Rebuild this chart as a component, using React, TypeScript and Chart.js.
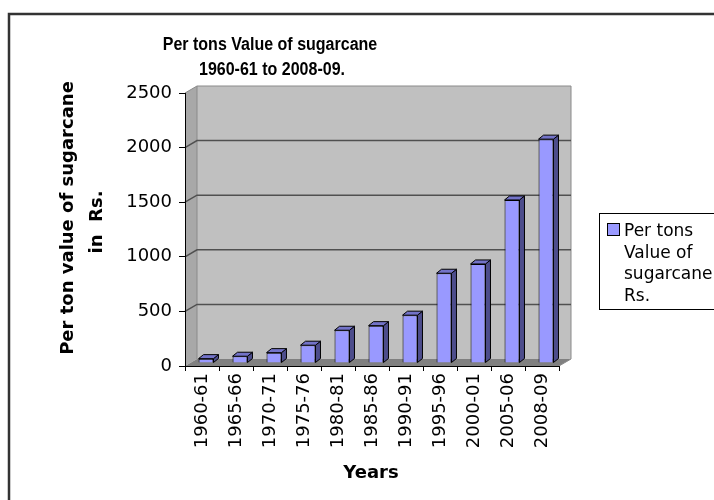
import React, { useEffect, useRef } from "react";
import { Chart, registerables } from "chart.js";

Chart.register(...registerables);

const categories = [
  "1960-61", "1965-66", "1970-71", "1975-76", "1980-81", "1985-86",
  "1990-91", "1995-96", "2000-01", "2005-06", "2008-09",
];
const values = [40, 62, 95, 163, 300, 342, 438, 822, 907, 1493, 2050];
const yMin = 0;
const yMax = 2500;
const yStep = 500;
const titleLines = ["Per tons Value of sugarcane", "1960-61 to 2008-09."];
const yTitleLines = ["Per ton value of sugarcane", "in  Rs."];
const xTitle = "Years";
const legendLines = ["Per tons", "Value of", "sugarcane", "Rs."];

// 3D geometry (pixels)
const DX = 12, DY = -7; // wall depth
const BDX = 4, BDY = -3; // bar plane shift
const SDX = 5, SDY = -4; // bar depth

const BAR_FRONT = "#9999FF";
const BAR_SIDE = "#4D4D8C";
const BAR_TOP = "#7373C8";

const threeD = {
  id: "threeD",
  beforeDraw(chart: any) {
    const { ctx, chartArea } = chart;
    const { left: L, right: R, top: T, bottom: B } = chartArea;
    const ys = chart.scales.y;
    ctx.save();
    // outer border
    ctx.strokeStyle = "#333";
    ctx.lineWidth = 2.5;
    ctx.beginPath();
    ctx.moveTo(9, 520);
    ctx.lineTo(9, 14);
    ctx.lineTo(740, 14);
    ctx.stroke();

    // back wall
    ctx.fillStyle = "#C0C0C0";
    ctx.fillRect(L + DX, T + DY, R - L, B - T);
    // side wall
    ctx.fillStyle = "#A8A8A8";
    ctx.beginPath();
    ctx.moveTo(L, T);
    ctx.lineTo(L + DX, T + DY);
    ctx.lineTo(L + DX, B + DY);
    ctx.lineTo(L, B);
    ctx.closePath();
    ctx.fill();
    // floor
    ctx.fillStyle = "#808080";
    ctx.beginPath();
    ctx.moveTo(L, B);
    ctx.lineTo(L + DX, B + DY);
    ctx.lineTo(R + DX, B + DY);
    ctx.lineTo(R, B);
    ctx.closePath();
    ctx.fill();

    // outlines of walls
    ctx.strokeStyle = "#8a8a8a";
    ctx.lineWidth = 1;
    ctx.beginPath();
    ctx.moveTo(L, T);
    ctx.lineTo(L + DX, T + DY);
    ctx.lineTo(R + DX, T + DY);
    ctx.lineTo(R + DX, B + DY);
    ctx.lineTo(R, B);
    ctx.moveTo(L + DX, T + DY);
    ctx.lineTo(L + DX, B + DY);
    ctx.stroke();

    // gridlines
    ctx.strokeStyle = "#505050";
    ctx.lineWidth = 1.5;
    for (let v = yMin + yStep; v < yMax; v += yStep) {
      const y = ys.getPixelForValue(v);
      ctx.beginPath();
      ctx.moveTo(L, y);
      ctx.lineTo(L + DX, y + DY);
      ctx.lineTo(R + DX, y + DY);
      ctx.stroke();
    }
    ctx.restore();
  },
  beforeDatasetsDraw(chart: any) {
    chart.ctx.save();
    chart.ctx.translate(BDX, BDY);
  },
  afterDatasetsDraw(chart: any) {
    const ctx = chart.ctx;
    const meta = chart.getDatasetMeta(0);
    ctx.lineWidth = 1;
    ctx.strokeStyle = "#000";
    meta.data.forEach((el: any) => {
      const { x, y, base, width } = el.getProps(["x", "y", "base", "width"], true);
      const l = x - width / 2;
      const r = x + width / 2;
      // side face
      ctx.fillStyle = BAR_SIDE;
      ctx.beginPath();
      ctx.moveTo(r, y);
      ctx.lineTo(r + SDX, y + SDY);
      ctx.lineTo(r + SDX, base + SDY);
      ctx.lineTo(r, base);
      ctx.closePath();
      ctx.fill();
      ctx.stroke();
      // top face
      ctx.fillStyle = BAR_TOP;
      ctx.beginPath();
      ctx.moveTo(l, y);
      ctx.lineTo(l + SDX, y + SDY);
      ctx.lineTo(r + SDX, y + SDY);
      ctx.lineTo(r, y);
      ctx.closePath();
      ctx.fill();
      ctx.stroke();
    });
    ctx.restore();
  },
  afterDraw(chart: any) {
    const { ctx } = chart;
    ctx.save();
    ctx.fillStyle = "#000";
    // title (slightly condensed)
    ctx.font = "bold 18px 'Liberation Sans', Arial, sans-serif";
    ctx.textAlign = "center";
    ctx.textBaseline = "alphabetic";
    ctx.save();
    ctx.translate(270, 50);
    ctx.scale(0.89, 1);
    ctx.fillText(titleLines[0], 0, 0);
    ctx.restore();
    ctx.save();
    ctx.translate(272, 75);
    ctx.scale(0.89, 1);
    ctx.fillText(titleLines[1], 0, 0);
    ctx.restore();
    // y title
    ctx.font = "bold 18px 'DejaVu Sans', sans-serif";
    ctx.save();
    ctx.translate(73, 218);
    ctx.rotate(-Math.PI / 2);
    ctx.fillText(yTitleLines[0], 0, 0);
    ctx.fillText(yTitleLines[1], -4, 29);
    ctx.restore();
    // x title
    ctx.fillText(xTitle, 371, 478);
    // legend
    ctx.strokeStyle = "#000";
    ctx.lineWidth = 1;
    ctx.strokeRect(599.5, 213.5, 140, 96);
    ctx.fillStyle = BAR_FRONT;
    ctx.fillRect(607.5, 223.5, 12, 12);
    ctx.strokeRect(607.5, 223.5, 12, 12);
    ctx.fillStyle = "#000";
    ctx.font = "17px 'DejaVu Sans', sans-serif";
    ctx.textAlign = "left";
    const baselines = [236, 258, 279, 301];
    legendLines.forEach((t, i) => ctx.fillText(t, 624, baselines[i]));
    ctx.restore();
  },
};

export default function App() {
  const ref = useRef<HTMLCanvasElement | null>(null);
  useEffect(() => {
    if (!ref.current) return;
    const tickFont = { family: "'DejaVu Sans', sans-serif", size: 18 };
    const chart = new Chart(ref.current, {
      type: "bar",
      data: {
        labels: categories,
        datasets: [
          {
            label: "Per tons Value of sugarcane Rs.",
            data: values,
            backgroundColor: BAR_FRONT,
            borderColor: "#000",
            borderWidth: 1,
            categoryPercentage: 1,
            barPercentage: 0.44,
            clip: false as any,
          },
        ],
      },
      options: {
        responsive: false,
        animation: false,
        events: [],
        layout: { padding: { left: 0, top: 93, right: 155, bottom: 0 } },
        plugins: {
          legend: { display: false },
          title: { display: false },
          tooltip: { enabled: false },
        },
        scales: {
          x: {
            offset: true,
            grid: {
              display: true,
              drawOnChartArea: false,
              drawTicks: true,
              tickLength: 5,
              color: "#000",
              offset: true,
            },
            border: { display: true, color: "#000", width: 1 },
            ticks: {
              autoSkip: false,
              maxRotation: 90,
              minRotation: 90,
              padding: 2,
              color: "#000",
              font: tickFont,
            },
            afterFit: (s: any) => {
              s.height = 134;
            },
          },
          y: {
            min: yMin,
            max: yMax,
            ticks: {
              stepSize: yStep,
              padding: 7,
              color: "#000",
              font: tickFont,
              callback: (v: any) => String(v),
            },
            grid: {
              drawOnChartArea: false,
              drawTicks: true,
              tickLength: 6,
              color: "#000",
            },
            border: { display: true, color: "#000", width: 1 },
            afterFit: (s: any) => {
              s.width = 185;
            },
          },
        },
      },
      plugins: [threeD],
    });
    return () => chart.destroy();
  }, []);
  return (
    <div style={{ position: "absolute", left: 0, top: 0, width: 714, height: 500, background: "#fff" }}>
      <canvas ref={ref} width={714} height={500} style={{ display: "block" }} />
    </div>
  );
}
